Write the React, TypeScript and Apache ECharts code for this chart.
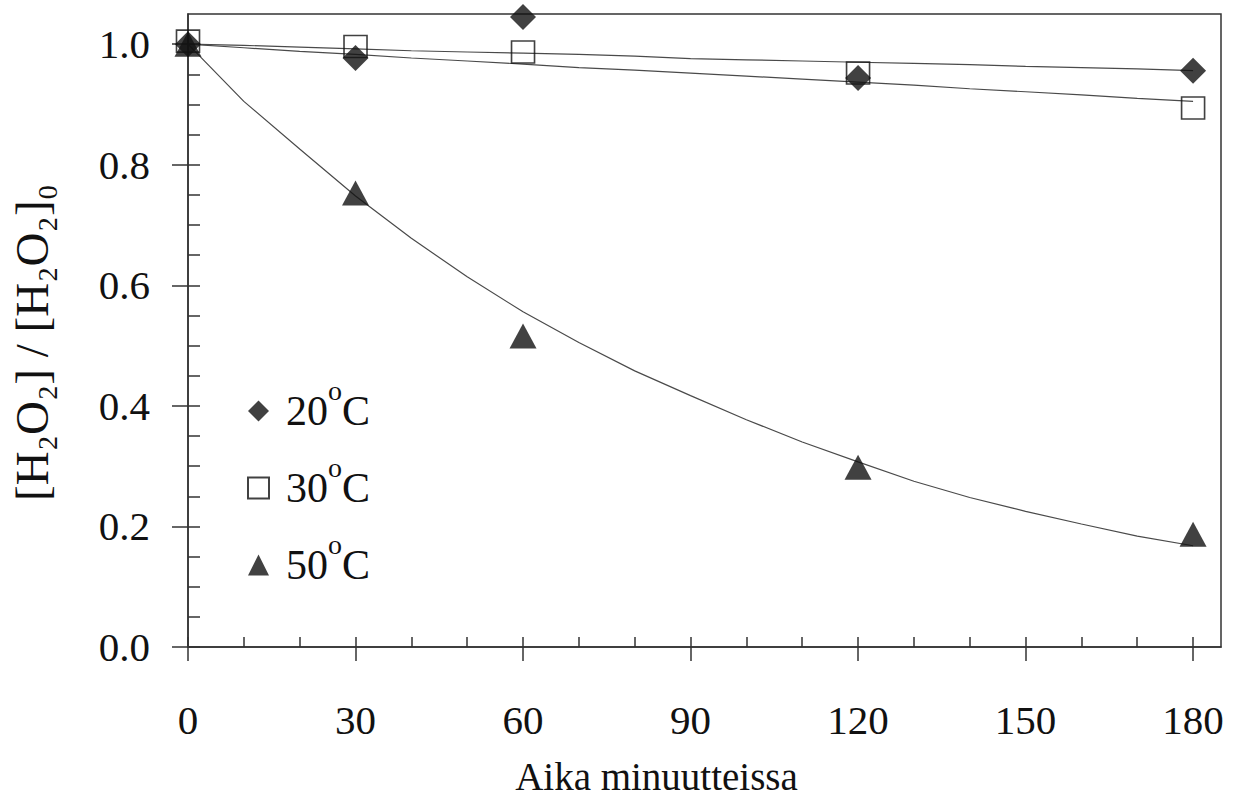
import React, { useEffect, useRef } from "react";
import * as echarts from "echarts";

const FONT = '"Liberation Serif", "Times New Roman", serif';

// measured data
const times = [0, 30, 60, 120, 180];
const data20 = [1.0, 0.977, 1.045, 0.944, 0.956];
const data30 = [1.005, 0.996, 0.987, 0.952, 0.894];
const data50 = [1.0, 0.753, 0.516, 0.298, 0.187];

// fitted curves
const fitTimes = [0, 10, 20, 30, 40, 50, 60, 70, 80, 90, 100, 110, 120, 130, 140, 150, 160, 170, 180];
const fit20 = [1.0, 0.998, 0.995, 0.992, 0.989, 0.987, 0.985, 0.983, 0.98, 0.976, 0.974, 0.972, 0.97, 0.968, 0.966, 0.963, 0.961, 0.959, 0.956];
const fit30 = [1.0, 0.994, 0.988, 0.983, 0.977, 0.972, 0.967, 0.961, 0.957, 0.952, 0.947, 0.942, 0.937, 0.932, 0.926, 0.921, 0.916, 0.91, 0.905];
const fit50 = [1.0, 0.905, 0.826, 0.748, 0.678, 0.614, 0.556, 0.505, 0.458, 0.417, 0.377, 0.34, 0.307, 0.275, 0.248, 0.225, 0.204, 0.184, 0.168];

const xMajor = [0, 30, 60, 90, 120, 150, 180];
const xMinor = [0, 10, 20, 30, 40, 50, 60, 70, 80, 90, 100, 110, 120, 130, 140, 150, 160, 170, 180];
const yMajor = [0, 0.2, 0.4, 0.6, 0.8, 1.0];
const yMinor = [0, 0.05, 0.1, 0.15, 0.2, 0.25, 0.3, 0.35, 0.4, 0.45, 0.5, 0.55, 0.6, 0.65, 0.7, 0.75, 0.8, 0.85, 0.9, 0.95, 1.0];

const seriesNames = ["20°C", "30°C", "50°C"];

const AXIS = "#333";
const INK = "#111";

function pairs(xs: number[], ys: number[]) {
  return xs.map((x, i) => [x, ys[i]]);
}

export default function App() {
  const ref = useRef<HTMLDivElement>(null);
  useEffect(() => {
    document.body.style.margin = "0";
    if (!ref.current) return;
    const chart = echarts.init(ref.current, undefined, { renderer: "svg" });
    const fitLine = (name: string, d: number[]) => ({
      name,
      type: "line",
      data: pairs(fitTimes, d),
      showSymbol: false,
      symbol: "none",
      silent: true,
      z: 1,
      lineStyle: { color: "#4a4a4a", width: 1.2 },
    });
    chart.setOption({
      animation: false,
      backgroundColor: "#fff",
      grid: {
        left: 185,
        right: 19,
        top: 14,
        bottom: 147,
        show: true,
        borderColor: AXIS,
        borderWidth: 1.5,
        backgroundColor: "transparent",
      },
      legend: {
        orient: "vertical",
        left: 247,
        top: 376,
        padding: 0,
        itemWidth: 21,
        itemHeight: 21,
        itemGap: 7,
        data: seriesNames,
        selectedMode: false,
        formatter: (name: string) => `{n|${name.replace("°C", "")}}{s|o}{n|C}`,
        textStyle: {
          color: INK,
          fontFamily: FONT,
          fontSize: 42,
          lineHeight: 70,
          padding: [0, 0, 0, 12],
          rich: {
            n: { fontFamily: FONT, fontSize: 42, color: INK, lineHeight: 70 },
            s: { fontFamily: FONT, fontSize: 28, color: INK, verticalAlign: "top", lineHeight: 28 },
          },
        },
      },
      xAxis: [
        {
          type: "value",
          min: 0,
          max: 185,
          interval: 30,
          position: "bottom",
          name: "Aika minuutteissa",
          nameLocation: "middle",
          nameGap: 110,
          nameTextStyle: { color: INK, fontFamily: FONT, fontSize: 39, padding: [0, 96, 0, 0] },
          axisLine: { show: true, lineStyle: { color: AXIS, width: 1.5 } },
          axisTick: { show: true, inside: false, length: 14, customValues: xMajor, lineStyle: { color: AXIS, width: 1.5 } },
          axisLabel: {
            customValues: xMajor,
            margin: 52,
            color: INK,
            fontFamily: FONT,
            fontSize: 41,
          },
          splitLine: { show: false },
        },
        {
          type: "value",
          min: 0,
          max: 185,
          interval: 10,
          position: "bottom",
          axisLine: { show: false },
          axisTick: { show: true, inside: true, length: 10, customValues: xMinor, lineStyle: { color: AXIS, width: 1.5 } },
          axisLabel: { show: false },
          splitLine: { show: false },
        },
      ],
      yAxis: [
        {
          type: "value",
          min: 0,
          max: 1.05,
          interval: 0.2,
          position: "left",
          name: "[H₂O₂] / [H₂O₂]₀",
          nameLocation: "middle",
          nameGap: 133,
          nameTextStyle: { color: INK, fontFamily: FONT, fontSize: 47, padding: [0, 24, 0, 0] },
          axisLine: { show: true, lineStyle: { color: AXIS, width: 1.5 } },
          axisTick: { show: true, inside: false, length: 16, customValues: yMajor, lineStyle: { color: AXIS, width: 1.5 } },
          axisLabel: {
            customValues: yMajor,
            margin: 38,
            color: INK,
            fontFamily: FONT,
            fontSize: 41,
            formatter: (v: number) => v.toFixed(1),
          },
          splitLine: { show: false },
        },
        {
          type: "value",
          min: 0,
          max: 1.05,
          interval: 0.05,
          position: "left",
          axisLine: { show: false },
          axisTick: { show: true, inside: true, length: 12, customValues: yMinor, lineStyle: { color: AXIS, width: 1.5 } },
          axisLabel: { show: false },
          splitLine: { show: false },
        },
      ],
      series: [
        fitLine("fit 20", fit20),
        fitLine("fit 30", fit30),
        fitLine("fit 50", fit50),
        {
          name: seriesNames[1],
          type: "scatter",
          data: pairs(times, data30),
          symbol: "rect",
          symbolSize: [23, 22],
          z: 3,
          itemStyle: { color: "rgba(255,255,255,0)", borderColor: INK, borderWidth: 1.6 },
        },
        {
          name: seriesNames[0],
          type: "scatter",
          data: pairs(times, data20),
          symbol: "diamond",
          symbolSize: [26, 26],
          z: 4,
          itemStyle: { color: INK },
        },
        {
          name: seriesNames[2],
          type: "scatter",
          data: pairs(times, data50),
          symbol: "triangle",
          symbolSize: [27, 25],
          z: 5,
          itemStyle: { color: INK },
        },
      ],
    });
    return () => chart.dispose();
  }, []);
  return <div ref={ref} style={{ width: 1240, height: 801 }} />;
}
